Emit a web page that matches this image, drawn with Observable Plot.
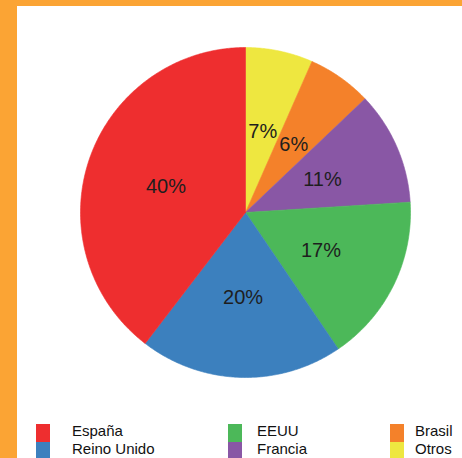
<!DOCTYPE html>
<html>
<head>
<meta charset="utf-8">
<script src="https://cdn.jsdelivr.net/npm/d3@7"></script>
<script src="https://cdn.jsdelivr.net/npm/@observablehq/plot@0.6"></script>
<style>
  html, body { margin: 0; padding: 0; background: #ffffff; }
  #frame { position: relative; width: 445px; height: 452px; padding: 6px 0 0 17px; background: #FBA434; overflow: hidden; }
  #inner { position: relative; width: 445px; height: 452px; background: #ffffff; }
  #legend { position: absolute; left: 0; top: 0; width: 445px; height: 452px; pointer-events: none;
            font-family: "Liberation Sans", Arial, sans-serif; font-size: 15px; color: #111; }
  .sw { position: absolute; width: 14px; height: 18px; }
  .lb { position: absolute; line-height: 18px; white-space: nowrap; }
</style>
</head>
<body>
<div id="frame"><div id="inner"><div id="chart"></div><div id="legend"></div></div></div>
<script>
// Data (legend order)
const categories = ["España", "Reino Unido", "EEUU", "Francia", "Brasil", "Otros"];
const values     = [39.6, 19.9, 16.5, 11.1, 6.3, 6.6];
const labels     = ["40%", "20%", "17%", "11%", "6%", "7%"];
const colors     = ["#EE2E2F", "#3C80BE", "#4CB859", "#8957A5", "#F4812A", "#EEE740"];

// Legend layout: column index & row index per category
const legendCol = [0, 0, 1, 1, 2, 2];
const legendRow = [0, 1, 0, 1, 0, 1];

const W = 445, H = 452;
const cx = 228, cy = 206, R = 165, labelR = 84;

// Pie drawn clockwise from top: reverse of legend order
const order = d3.range(categories.length).reverse();
const total = d3.sum(values);
let acc = 0;
const slices = order.map(i => {
  const a0 = acc / total * 2 * Math.PI;
  acc += values[i];
  const a1 = acc / total * 2 * Math.PI;
  return {name: categories[i], label: labels[i], a0, a1, mid: (a0 + a1) / 2};
});

const pts = [];
for (const s of slices) {
  pts.push({name: s.name, x: cx, y: cy});
  const n = Math.max(2, Math.ceil((s.a1 - s.a0) / (Math.PI / 360)));
  for (let k = 0; k <= n; k++) {
    const a = s.a0 + (s.a1 - s.a0) * k / n;
    pts.push({name: s.name, x: cx + R * Math.sin(a), y: cy - R * Math.cos(a)});
  }
  pts.push({name: s.name, x: cx, y: cy});
}

const chart = Plot.plot({
  width: W,
  height: H,
  margin: 0,
  x: {domain: [0, W], range: [0, W], axis: null},
  y: {domain: [0, H], range: [0, H], axis: null},
  color: {domain: categories, range: colors},
  style: {background: "transparent"},
  marks: [
    Plot.line(pts, {x: "x", y: "y", z: "name", fill: "name", stroke: "name", strokeWidth: 0.6, curve: "linear"}),
    Plot.text(slices, {
      x: d => cx + labelR * Math.sin(d.mid),
      y: d => cy - labelR * Math.cos(d.mid) + 1,
      text: "label",
      fontSize: 20,
      fontFamily: "Liberation Sans, Arial, sans-serif",
      fill: "#1e1e1e"
    })
  ]
});
document.getElementById("chart").appendChild(chart);

// Legend
const colSwatchX = [19, 211, 373];
const colTextX   = [55, 240, 398];
const legendTop = 418, rowH = 18;
const leg = document.getElementById("legend");
categories.forEach((c, i) => {
  const sw = document.createElement("div");
  sw.className = "sw";
  sw.style.left = colSwatchX[legendCol[i]] + "px";
  sw.style.top = (legendTop + legendRow[i] * rowH) + "px";
  sw.style.background = colors[i];
  leg.appendChild(sw);
  const lb = document.createElement("div");
  lb.className = "lb";
  lb.style.left = colTextX[legendCol[i]] + "px";
  lb.style.top = (legendTop - 2 + legendRow[i] * rowH) + "px";
  lb.textContent = c;
  leg.appendChild(lb);
});
</script>
</body>
</html>
